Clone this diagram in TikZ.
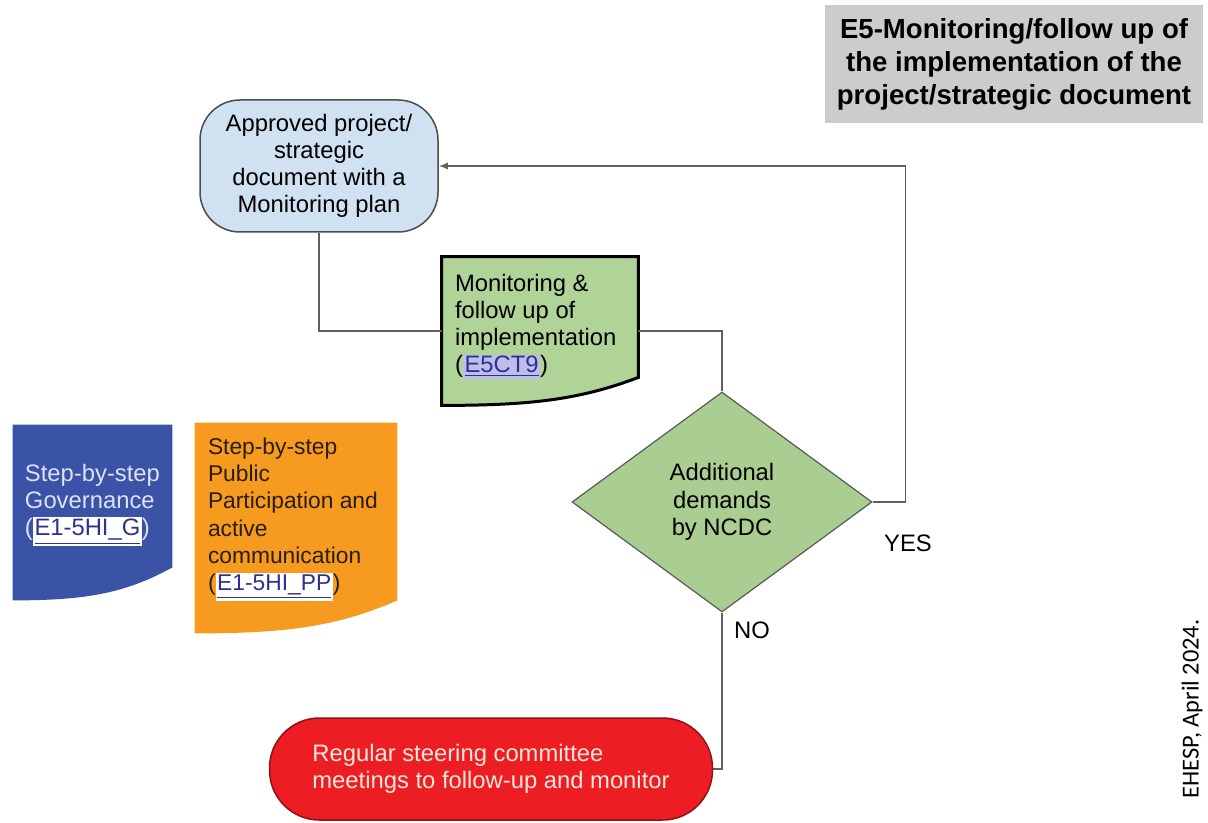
\documentclass[tikz,border=0pt]{standalone}
\usepackage{fontspec}
\setmainfont{Liberation Sans}
\newfontfamily\notefont{Carlito}
\usetikzlibrary{arrows.meta,shapes.geometric,fit,calc}

\definecolor{titlegray}{RGB}{204,204,204}
\definecolor{planblue}{RGB}{208,226,242}
\definecolor{checkgreen}{RGB}{176,212,152}
\definecolor{askgreen}{RGB}{170,206,146}
\definecolor{govblue}{RGB}{58,83,166}
\definecolor{govtext}{RGB}{222,225,246}
\definecolor{pporange}{RGB}{247,154,32}
\definecolor{pptext}{RGB}{40,30,12}
\definecolor{meetred}{RGB}{236,30,36}
\definecolor{meettext}{RGB}{255,232,218}
\definecolor{linkfg}{RGB}{44,50,145}
\definecolor{linkbg}{RGB}{190,190,232}
\definecolor{wire}{RGB}{95,95,95}

% link-looking references inside the boxes
\newcommand\weblink[2]{{\setlength\fboxsep{0.8pt}\colorbox{#1}{\textcolor{linkfg}{\underline{#2}}}}}
% outline of a flowchart "document": #1 frame node, #2 rise of the right corner
\newcommand\docoutline[2]{(#1.north west) -- (#1.north east) -- ($(#1.south east)+(0,-#2)$)
  .. controls ($(#1.south east)!0.3!(#1.south west)+(0,-0.2*#2)$) and ($(#1.south west)!0.45!(#1.south east)$) .. (#1.south west) -- cycle}

\begin{document}
\begin{tikzpicture}[x=0.5pt,y=-0.5pt,
  font=\fontsize{11.9}{13.6}\selectfont,
  >={Latex[length=4.5pt,width=3.5pt]},
  box/.style={align=center,inner sep=2pt,line width=0.75pt},
  heading/.style={box,fill=titlegray,font=\fontsize{13.8}{16.5}\selectfont\bfseries,minimum width=189pt,minimum height=59pt},
  plan/.style={box,fill=planblue,draw=black!70,rounded corners=20pt,minimum width=119pt,minimum height=66pt},
  check/.style={diamond,fill=askgreen,draw=black!65,line width=0.6pt,align=center,inner sep=0pt,minimum width=150pt,minimum height=110pt},
  meeting/.style={box,fill=meetred,draw=meetred!60!black,text=meettext,align=left,rounded corners=25pt,minimum width=221.5pt,minimum height=51pt},
  docframe/.style={inner sep=0pt},
  doctext/.style={anchor=north west,align=left,inner sep=0pt},
  flow/.style={draw=wire,line width=0.75pt},
  note/.style={inner sep=1pt},
]
\useasboundingbox (0,0) rectangle (1208,823);

\node[heading] (title) at (1014,64) {E5-Monitoring/follow up of\\the implementation of the\\project/strategic document};

\node[plan] (approved) at (319,166) {Approved project/\\strategic\\document with a\\Monitoring plan};

% document frames, outlines drawn below
\node[docframe,fit={(442,257) (638,405)}] (monitor) {};
\node[docframe,fit={(13,425) (172,600)}] (gov) {};
\node[docframe,fit={(195,423) (397,633)}] (pp) {};

\fill[govblue] \docoutline{gov}{33};
\fill[pporange] \docoutline{pp}{33};
\filldraw[fill=checkgreen,draw=black,line width=1.5pt] \docoutline{monitor}{28};

\node[doctext] (monitor text) at ($(monitor.north west)+(13,17)$) {Monitoring \&\\follow up of\\implementation\\(\weblink{linkbg}{E5CT9})};
\node[doctext,text=govtext] (gov text) at ($(gov.north west)+(12,39)$) {Step-by-step\\Governance\\(\weblink{white}{E1-5HI\_G})};
\node[doctext,text=pptext,font=\fontsize{11.4}{13.6}\selectfont] (pp text) at ($(pp.north west)+(13,15)$) {Step-by-step\\Public\\Participation and\\active\\communication\\(\weblink{white}{E1-5HI\_PP})};

\node[check] (demands) at (722,502) {Additional\\demands\\by NCDC};

\node[meeting] (steering) at (491,769) {Regular steering committee\\meetings to follow-up and monitor};

\draw[flow] (approved.south) |- (monitor.west);
\draw[flow] (monitor.east) -| (demands.north);
\draw[flow,->] (demands.east) -- ++(33,0) |- (approved.east);
\draw[flow] (demands.south) |- (steering.east);

\node[note] (yes) at (908,543) {YES};
\node[note] (no) at (752,630) {NO};

\node[rotate=90,font=\notefont\fontsize{12.2}{14}\selectfont] (credit) at (1192,709) {EHESP, April 2024.};
\end{tikzpicture}
\end{document}
